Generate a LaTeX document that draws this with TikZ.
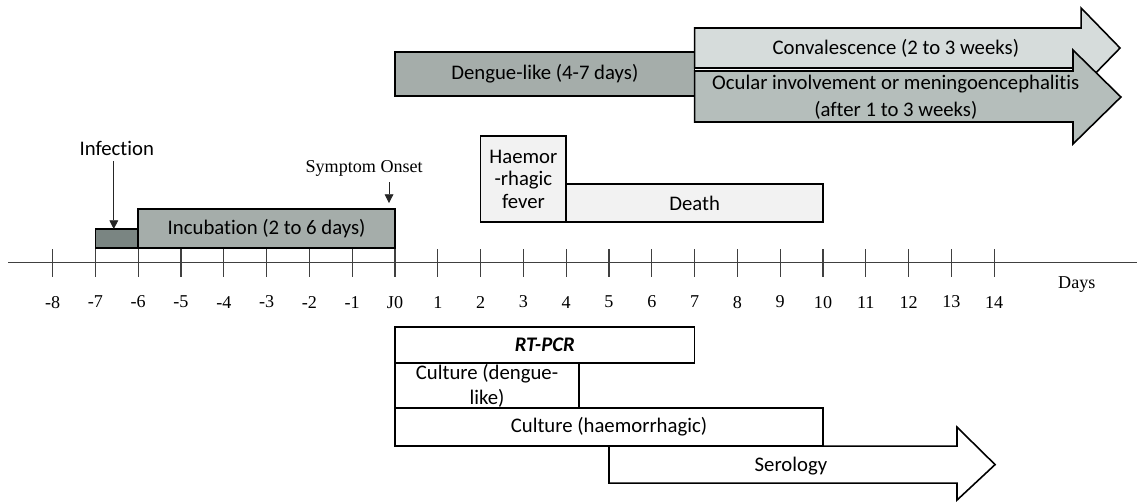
\documentclass[tikz,border=0pt]{standalone}
\usepackage{fontspec}
\setmainfont[Ligatures=NoCommon]{Carlito}
\newfontfamily\tms{Liberation Serif}
\usetikzlibrary{arrows.meta}

\definecolor{darkbox}{HTML}{7A8582}
\definecolor{midbox}{HTML}{A5ADAA}
\definecolor{ocbox}{HTML}{B5BEBB}
\definecolor{lightbox}{HTML}{D6DCDB}
\definecolor{palebox}{HTML}{F2F2F2}

\begin{document}
\begin{tikzpicture}[x=0.856cm, y=-0.02cm, font=\fontsize{11.8}{14}\selectfont,
    box/.style={draw=black, line width=0.9pt},
    tick/.style={draw=black!75, line width=0.6pt},
    num/.style={font=\tms\fontsize{10.3}{12}\selectfont},
    pin/.style={-{Triangle[length=5pt,width=5pt]}, black!85, line width=0.5pt}]
  \useasboundingbox (-9.229,0) rectangle (17.336,501);
  % time axis
  \coordinate (axl) at (-9.04,262);
  \coordinate (axr) at (17.336,262);
  \draw[tick] (axl) -- (axr);
  \foreach \d in {-8,...,14}
    \draw[tick] (\d,249) -- (\d,277);
  \foreach \d in {-8,...,-1,1,2,...,14}
    \node[num] (n\d) at (\d,302) {\d};
  \node[num] (n0) at (0,302) {J0};
  \node[num] (days) at (15.93,284) {Days};
  % incubation
  \draw[box, fill=darkbox] (-7,229) rectangle (-6,248);
  \draw[box, fill=midbox] (-6,209) rectangle (0,248) node[midway] (incub) {Incubation (2 to 6 days)};
  \node (inf) at (-6.5,148) {Infection};
  \coordinate (infpt) at (-6.57,229);
  \draw[pin] (inf.south -| infpt) -- (infpt);
  \node[num] (onset) at (-0.72,168) {Symptom Onset};
  \coordinate (onsetpt) at (-0.14,203);
  \draw[pin] (onset.south -| onsetpt) -- (onsetpt);
  % clinical forms
  \draw[box, fill=palebox] (2,136) rectangle (4,222) node[midway, align=center, font=\fontsize{11.8}{12.8}\selectfont] (haem) {Haemor\\-rhagic\\fever};
  \draw[box, fill=palebox] (4,184) rectangle (10,222) node[midway] (death) {Death};
  \draw[box, fill=midbox] (0,52) rectangle (7,96) node[midway] (dengue) {Dengue-like (4-7 days)};
  \draw[box, fill=lightbox] (7,28) -- (16.03,28) -- (16.03,8) -- (16.94,48) -- (16.03,88) -- (16.03,68) -- (7,68) -- cycle;
  \node (conv) at (11.7,48) {Convalescence (2 to 3 weeks)};
  \draw[box, fill=ocbox] (7,71) -- (15.84,71) -- (15.84,50) -- (16.96,97) -- (15.84,144) -- (15.84,122) -- (7,122) -- cycle;
  \node[align=center] (ocular) at (11.7,97) {Ocular involvement or meningoencephalitis\\[1.3pt](after 1 to 3 weeks)};
  % diagnostics
  \draw[box, fill=white] (5,446) -- (13.13,446) -- (13.13,427) -- (14.02,464.5) -- (13.13,500) -- (13.13,483) -- (5,483) -- cycle;
  \node (sero) at (9.25,466) {Serology};
  \draw[box, fill=white] (0,327) rectangle (7,363) node[midway] (pcr) {\bfseries\itshape RT-PCR};
  \draw[box, fill=white] (0,363) rectangle (4.3,408) node[midway, align=center] (culdl) {Culture (dengue-\\like)};
  \draw[box, fill=white] (0,408) rectangle (10,446) node[midway] (culhm) {Culture (haemorrhagic)};
\end{tikzpicture}
\end{document}
